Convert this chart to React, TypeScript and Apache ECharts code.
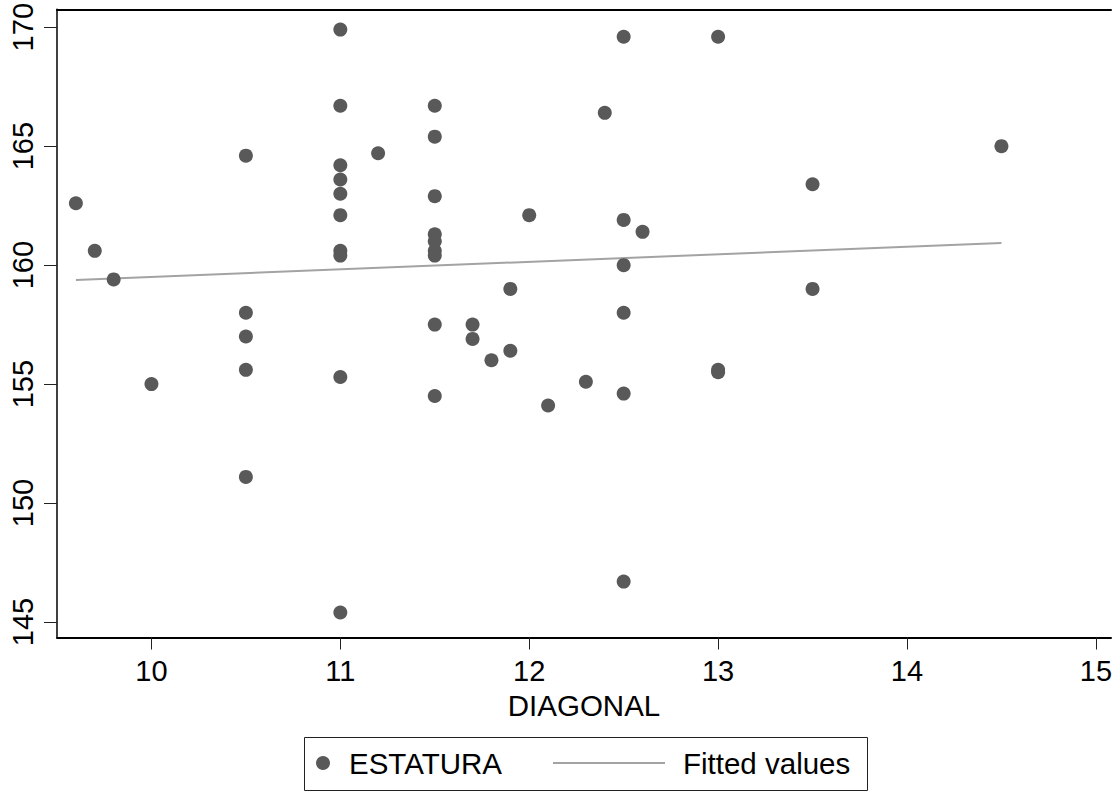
import React, { useEffect, useRef } from "react";
import * as echarts from "echarts";

// DIAGONAL (x) and ESTATURA (y) observations
const diagonal = [
  9.6, 9.7, 9.8, 10.0,
  10.5, 10.5, 10.5, 10.5, 10.5,
  11, 11, 11, 11, 11, 11, 11, 11, 11, 11,
  11.2,
  11.5, 11.5, 11.5, 11.5, 11.5, 11.5, 11.5, 11.5, 11.5,
  11.7, 11.7, 11.8, 11.9, 11.9, 12.0, 12.1, 12.3, 12.4,
  12.5, 12.5, 12.5, 12.5, 12.5, 12.5,
  12.6, 13, 13, 13, 13.5, 13.5, 14.5,
];
const estatura = [
  162.6, 160.6, 159.4, 155.0,
  164.6, 158.0, 157.0, 155.6, 151.1,
  169.9, 166.7, 164.2, 163.6, 163.0, 162.1, 160.6, 160.4, 155.3, 145.4,
  164.7,
  166.7, 165.4, 162.9, 161.3, 161.0, 160.6, 160.4, 157.5, 154.5,
  157.5, 156.9, 156.0, 159.0, 156.4, 162.1, 154.1, 155.1, 166.4,
  169.6, 161.9, 160.0, 158.0, 154.6, 146.7,
  161.4, 169.6, 155.6, 155.5, 163.4, 159.0, 165.0,
];

// Fitted values (linear fit) end points
const fitX = [9.6, 14.5];
const fitY = [159.38, 160.93];

const xTicks = [10, 11, 12, 13, 14, 15];
const yTicks = [145, 150, 155, 160, 165, 170];

const FONT = "'Liberation Sans', Arial, sans-serif";

export default function App() {
  const ref = useRef<HTMLDivElement>(null);

  useEffect(() => {
    document.body.style.margin = "0";
    if (!ref.current) return;
    const chart = echarts.init(ref.current, undefined, { renderer: "svg" });

    const scatterData = diagonal.map((d, i) => [d, estatura[i]]);
    const fitData = fitX.map((d, i) => [d, fitY[i]]);

    chart.setOption({
      animation: false,
      backgroundColor: "#ffffff",
      textStyle: { fontFamily: FONT },
      grid: { left: 57, right: 0, top: 6, bottom: 155.5, containLabel: false },
      xAxis: [
        {
          type: "value",
          min: 9.5,
          max: 15.08,
          position: "bottom",
          name: "DIAGONAL",
          nameLocation: "middle",
          nameGap: 49,
          nameTextStyle: { fontSize: 29.5, color: "#000", fontFamily: FONT },
          axisLine: { show: true, onZero: false, lineStyle: { color: "#000", width: 2 } },
          axisTick: {
            show: true,
            length: 12,
            customValues: xTicks,
            lineStyle: { color: "#222", width: 1 },
          },
          axisLabel: {
            show: true,
            customValues: xTicks,
            margin: 19,
            fontSize: 29,
            color: "#000",
            fontFamily: FONT,
            showMaxLabel: true,
            hideOverlap: false,
          },
          splitLine: { show: false },
        },
        {
          type: "value",
          min: 9.5,
          max: 15.08,
          position: "top",
          axisLine: { show: true, onZero: false, lineStyle: { color: "#000", width: 2 } },
          axisTick: { show: false },
          axisLabel: { show: false },
          splitLine: { show: false },
        },
      ],
      yAxis: {
        type: "value",
        min: 144.35,
        max: 170.75,
        axisLine: { show: true, onZero: false, lineStyle: { color: "#000", width: 1.5 } },
        axisTick: {
          show: true,
          length: 13,
          customValues: yTicks,
          lineStyle: { color: "#222", width: 1 },
        },
        axisLabel: {
          show: true,
          customValues: yTicks,
          rotate: 90,
          margin: 20,
          fontSize: 29,
          color: "#000",
          fontFamily: FONT,
        },
        splitLine: { show: false },
      },
      legend: [
        {
          data: ["ESTATURA"],
          left: 316,
          top: 748,
          padding: 0,
          itemWidth: 14,
          itemHeight: 14,
          selectedMode: false,
          icon: "circle",
          itemStyle: { color: "#595959", opacity: 1 },
          textStyle: {
            fontSize: 29.5,
            color: "#000",
            fontFamily: FONT,
            padding: [0, 0, 0, 14],
          },
        },
        {
          data: ["Fitted values"],
          left: 553,
          top: 748,
          padding: 0,
          itemWidth: 112,
          itemHeight: 2,
          selectedMode: false,
          icon: "rect",
          itemStyle: { color: "#a3a3a3" },
          textStyle: {
            fontSize: 29.5,
            color: "#000",
            fontFamily: FONT,
            padding: [0, 0, 0, 13],
          },
        },
      ],
      graphic: [
        {
          type: "rect",
          shape: { x: 304.5, y: 737.5, width: 563, height: 53 },
          style: { fill: "none", stroke: "#222", lineWidth: 1 },
          z: 0,
        },
      ],
      series: [
        {
          name: "ESTATURA",
          type: "scatter",
          data: scatterData,
          symbol: "circle",
          symbolSize: 14,
          itemStyle: { color: "#595959", opacity: 1 },
          z: 3,
        },
        {
          name: "Fitted values",
          type: "line",
          data: fitData,
          symbol: "none",
          showSymbol: false,
          lineStyle: { color: "#a3a3a3", width: 2 },
          itemStyle: { color: "#a3a3a3" },
          z: 2,
        },
      ],
    });

    return () => chart.dispose();
  }, []);

  return <div ref={ref} style={{ width: 1115, height: 793 }} />;
}
